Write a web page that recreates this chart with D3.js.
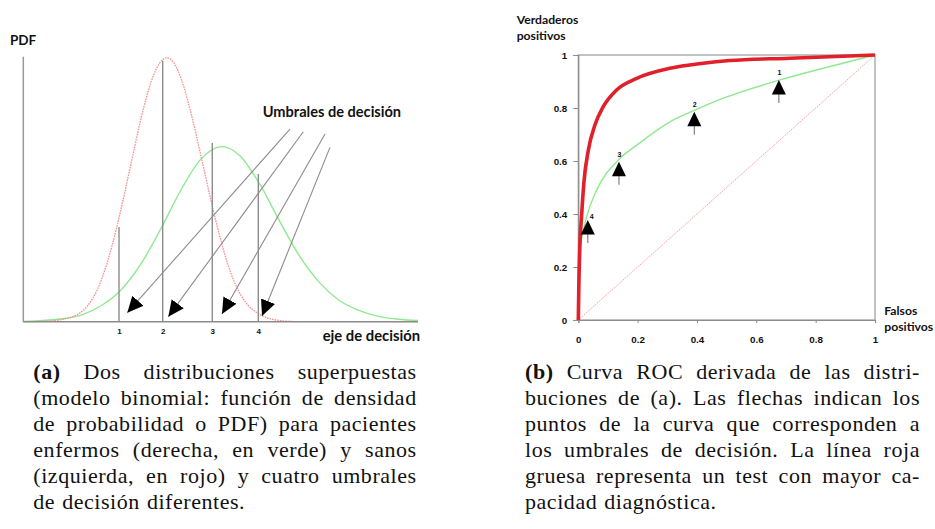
<!DOCTYPE html>
<html>
<head>
<meta charset="utf-8">
<script src="https://cdn.jsdelivr.net/npm/d3@7"></script>
<style>
  html, body { margin: 0; padding: 0; background: #fff; }
  svg { display: block; }
  .lbl { font-family: Lato, "Open Sans", sans-serif; font-weight: 700; fill: #111; }
  .num { font-family: "Liberation Sans", Arial, sans-serif; font-weight: 700; fill: #111; }
  .cap { font-family: "Liberation Serif", "Times New Roman", serif; font-size: 22px; letter-spacing: 0.55px; fill: #111; }
</style>
</head>
<body>
<svg id="fig" width="935" height="529"></svg>
<script>
// ---- (a) density curves along the decision axis ----
const sanosX   = [0, 0.5, 1.0, 1.5, 2.0, 2.25, 2.5, 2.75, 3.0, 3.25, 3.45, 3.633, 3.8, 4.0, 4.25, 4.5, 4.75, 5.0, 5.25, 5.5, 6.0, 6.5, 7.0, 10];
const sanosPDF = [0, 0.0005, 0.004, 0.018, 0.074, 0.128, 0.196, 0.272, 0.346, 0.405, 0.434, 0.443, 0.436, 0.408, 0.350, 0.279, 0.205, 0.138, 0.083, 0.046, 0.012, 0.002, 0, 0];

const enfermosX   = [0, 1.0, 1.5, 2.0, 2.5, 3.0, 3.5, 4.0, 4.5, 5.027, 5.5, 6.0, 6.5, 7.0, 7.5, 8.0, 8.5, 9.0, 9.5, 10];
const enfermosPDF = [0.0005, 0.005, 0.012, 0.028, 0.055, 0.099, 0.158, 0.222, 0.273, 0.294, 0.278, 0.230, 0.168, 0.110, 0.066, 0.036, 0.019, 0.009, 0.004, 0.002];

// decision thresholds: position on the axis, height of the marker line, label
const umbralX      = [2.425, 3.532, 4.788, 5.954];
const umbralAltura = [0.159, 0.438, 0.300, 0.248];
const umbralTexto  = ["1", "2", "3", "4"];

// pointer arrows from the "Umbrales de decisión" note down to each threshold
const flechaDesde = [[6.757, 0.3235], [7.094, 0.319], [7.644, 0.3152], [7.770, 0.2927]];
const flechaHasta = [[2.635, 0.0151], [3.674, 0.0084], [5.034, 0.0129], [6.048, 0.0095]];

// ---- (b) ROC curves ----
const rocFuerteFP = [0, 0.002, 0.005, 0.0115, 0.019, 0.034, 0.056, 0.084, 0.129, 0.197, 0.309, 0.421, 0.511, 0.713, 1];
const rocFuerteVP = [0, 0.14, 0.27, 0.40, 0.52, 0.642, 0.736, 0.805, 0.868, 0.912, 0.950, 0.969, 0.979, 0.988, 1];

const rocFP = [0.006, 0.028, 0.062, 0.135, 0.197, 0.309, 0.393, 0.489, 0.68, 0.826, 1];
const rocVP = [0.28, 0.39, 0.49, 0.604, 0.66, 0.748, 0.792, 0.837, 0.906, 0.95, 1];

// operating points of the four thresholds on the ROC curve
const puntoFP = [0.676, 0.391, 0.137, 0.032];
const puntoVP = [0.906, 0.786, 0.597, 0.377];
const puntoTexto = ["1", "2", "3", "4"];

const ticksROC = [0, 0.2, 0.4, 0.6, 0.8, 1];

// ---- captions ----
const leyendaA = {
  etiqueta: "(a)",
  lineas: [
    "Dos distribuciones superpuestas",
    "(modelo binomial: función de densidad",
    "de probabilidad o PDF) para pacientes",
    "enfermos (derecha, en verde) y sanos",
    "(izquierda, en rojo) y cuatro umbrales",
    "de decisión diferentes."
  ]
};
const leyendaB = {
  etiqueta: "(b)",
  lineas: [
    "Curva ROC derivada de las distri-",
    "buciones de (a). Las flechas indican los",
    "puntos de la curva que corresponden a",
    "los umbrales de decisión. La línea roja",
    "gruesa representa un test con mayor ca-",
    "pacidad diagnóstica."
  ]
};

const svg = d3.select("#fig");

// arrowhead used by the pointer arrows of panel (a)
svg.append("defs").append("marker")
  .attr("id", "punta")
  .attr("markerUnits", "userSpaceOnUse")
  .attr("viewBox", "0 -8 17 16")
  .attr("refX", 16).attr("refY", 0)
  .attr("markerWidth", 17).attr("markerHeight", 16)
  .attr("orient", "auto")
  .append("path").attr("d", "M0,-7.5L16,0L0,7.5Z").attr("fill", "#000");

// ================= panel (a) =================
const xA = d3.scaleLinear().domain([0, 10]).range([23.3, 418]);
const yA = d3.scaleLinear().domain([0, 0.445]).range([321.7, 56.7]);
const gA = svg.append("g");

const lineaPDF = d3.line().x(d => xA(d[0])).y(d => yA(d[1])).curve(d3.curveMonotoneX);

gA.append("path")
  .datum(d3.zip(enfermosX, enfermosPDF))
  .attr("d", lineaPDF)
  .attr("fill", "none").attr("stroke", "#8fe98f").attr("stroke-width", 1.4);

gA.append("path")
  .datum(d3.zip(sanosX, sanosPDF))
  .attr("d", lineaPDF)
  .attr("fill", "none").attr("stroke", "#f59090").attr("stroke-width", 1.3)
  .attr("stroke-dasharray", "1.6,1");

// threshold marker lines
gA.selectAll("line.umbral")
  .data(d3.zip(umbralX, umbralAltura))
  .join("line").attr("class", "umbral")
  .attr("x1", d => xA(d[0])).attr("x2", d => xA(d[0]))
  .attr("y1", yA(0)).attr("y2", d => yA(d[1]))
  .attr("stroke", "#8c8c8c").attr("stroke-width", 1.4);

// axes of panel (a)
gA.append("line")
  .attr("x1", xA(0)).attr("x2", xA(0)).attr("y1", yA(0)).attr("y2", yA(0.445))
  .attr("stroke", "#9a9a9a").attr("stroke-width", 1.5);
gA.append("line")
  .attr("x1", xA(0)).attr("x2", xA(10)).attr("y1", yA(0)).attr("y2", yA(0))
  .attr("stroke", "#8c8c8c").attr("stroke-width", 1.5);

const ejeA = d3.axisBottom(xA)
  .tickValues(umbralX)
  .tickFormat((d, i) => umbralTexto[i])
  .tickSize(0).tickPadding(7);
const gEjeA = gA.append("g").attr("transform", `translate(0,${yA(0)})`).call(ejeA);
gEjeA.select(".domain").remove();
gEjeA.selectAll("text").attr("class", "num").style("font-size", "8px").attr("font-family", null);

// pointer arrows
gA.selectAll("line.flecha")
  .data(d3.zip(flechaDesde, flechaHasta))
  .join("line").attr("class", "flecha")
  .attr("x1", d => xA(d[0][0])).attr("y1", d => yA(d[0][1]))
  .attr("x2", d => xA(d[1][0])).attr("y2", d => yA(d[1][1]))
  .attr("stroke", "#8c8c8c").attr("stroke-width", 1.1)
  .attr("marker-end", "url(#punta)");

gA.append("text").attr("class", "lbl").attr("x", 10).attr("y", 45)
  .style("font-size", "13.5px").text("PDF");
gA.append("text").attr("class", "lbl").attr("x", 262.7).attr("y", 116.5)
  .style("font-size", "14.6px").text("Umbrales de decisión");
gA.append("text").attr("class", "lbl").attr("x", 322.7).attr("y", 340.5)
  .style("font-size", "14.8px").text("eje de decisión");

// ================= panel (b) =================
const xB = d3.scaleLinear().domain([0, 1]).range([578.3, 875]);
const yB = d3.scaleLinear().domain([0, 1]).range([320, 55]);
const gB = svg.append("g");

// frame
gB.append("rect")
  .attr("x", xB(0)).attr("y", yB(1))
  .attr("width", xB(1) - xB(0)).attr("height", yB(0) - yB(1))
  .attr("fill", "none").attr("stroke", "#9a9a9a").attr("stroke-width", 1.2);

const ejeX = d3.axisBottom(xB).tickValues(ticksROC).tickFormat(d => String(d)).tickSize(3).tickPadding(13.5);
const ejeY = d3.axisLeft(yB).tickValues(ticksROC).tickFormat(d => String(d)).tickSize(5).tickPadding(6);
const gX = gB.append("g").attr("transform", `translate(0,${yB(0)})`).call(ejeX);
const gY = gB.append("g").attr("transform", `translate(${xB(0)},0)`).call(ejeY);
[gX, gY].forEach(g => {
  g.select(".domain").attr("stroke", "#8c8c8c").attr("stroke-width", 1.2);
  g.selectAll(".tick line").attr("stroke", "#8c8c8c");
  g.selectAll("text").attr("class", "num").style("font-size", "9.8px").attr("font-family", null);
});

// chance diagonal
gB.append("line")
  .attr("x1", xB(0)).attr("y1", yB(0)).attr("x2", xB(1)).attr("y2", yB(1))
  .attr("stroke", "#f5a0a0").attr("stroke-width", 1).attr("stroke-dasharray", "1.5,1");

const lineaROC = d3.line().x(d => xB(d[0])).y(d => yB(d[1])).curve(d3.curveMonotoneX);

gB.append("path")
  .datum(d3.zip(rocFP, rocVP))
  .attr("d", lineaROC)
  .attr("fill", "none").attr("stroke", "#8fe98f").attr("stroke-width", 1.4);

gB.append("path")
  .datum(d3.zip(rocFuerteFP, rocFuerteVP))
  .attr("d", lineaROC)
  .attr("fill", "none").attr("stroke", "#e0202a").attr("stroke-width", 3.6)
  .attr("stroke-linejoin", "round");

// upward arrows at the threshold operating points
const puntos = d3.zip(puntoFP, puntoVP, puntoTexto);
const gP = gB.selectAll("g.punto").data(puntos).join("g").attr("class", "punto")
  .attr("transform", d => `translate(${xB(d[0])},${yB(d[1])})`);
gP.append("line").attr("x1", 0).attr("x2", 0).attr("y1", 13).attr("y2", 23)
  .attr("stroke", "#777").attr("stroke-width", 1.1);
gP.append("path").attr("d", "M0,0L-7,14.5L7,14.5Z").attr("fill", "#000");
gP.append("text").attr("class", "num")
  .attr("x", (d, i) => i === 3 ? 4 : 0.5)
  .attr("y", (d, i) => i === 3 ? -1.5 : -4.5)
  .attr("text-anchor", "middle")
  .style("font-size", "7px")
  .text(d => d[2]);

gB.append("text").attr("class", "lbl").attr("x", 516.7).attr("y", 23.5).style("font-size", "12.2px").text("Verdaderos");
gB.append("text").attr("class", "lbl").attr("x", 516.7).attr("y", 39.5).style("font-size", "12.2px").text("positivos");
gB.append("text").attr("class", "lbl").attr("x", 884.3).attr("y", 315).style("font-size", "12.2px").text("Falsos");
gB.append("text").attr("class", "lbl").attr("x", 884.3).attr("y", 331).style("font-size", "12.2px").text("positivos");

// ================= captions =================
const baseLineas = [379.3, 405.3, 431.3, 457.3, 483.3, 509.3];

function leyenda(datos, x0, x1) {
  const g = svg.append("g");
  const espacio = 7;
  datos.lineas.forEach((linea, i) => {
    const partes = linea.split(" ").map(t => ({ t, negrita: false }));
    if (i === 0) partes.unshift({ t: datos.etiqueta, negrita: true });
    const nodos = partes.map(p => g.append("text").attr("class", "cap")
      .attr("y", baseLineas[i])
      .style("font-weight", p.negrita ? 700 : 400)
      .text(p.t));
    const anchos = nodos.map(n => n.node().getComputedTextLength());
    const ultima = i === datos.lineas.length - 1;
    const hueco = (!ultima && nodos.length > 1)
      ? (x1 - x0 - d3.sum(anchos)) / (nodos.length - 1)
      : espacio;
    let x = x0;
    nodos.forEach((n, k) => { n.attr("x", x); x += anchos[k] + hueco; });
  });
}
leyenda(leyendaA, 33.3, 416.7);
leyenda(leyendaB, 525, 920);
</script>
</body>
</html>
